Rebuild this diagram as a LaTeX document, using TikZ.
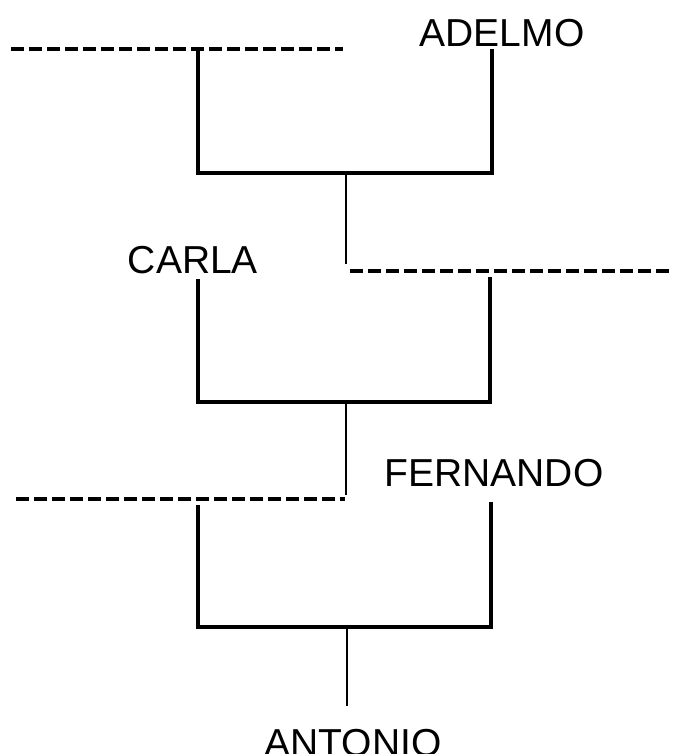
\documentclass[tikz,border=0pt]{standalone}
\usepackage{fontspec}
\setmainfont{Liberation Sans}
\usetikzlibrary{positioning}

\begin{document}
\begin{tikzpicture}[x=1pt,y=-1pt,
  person/.style={font=\fontsize{39}{39}\selectfont,inner sep=0pt,anchor=base},
  bar/.style={line width=3.3pt},
  unknown/.style={line width=3.3pt,dash pattern=on 13pt off 5pt},
  stem/.style={line width=1.3pt}]
  \useasboundingbox (0,0) rectangle (673,754);
  \node[person] (adelmo) at (502,47) {ADELMO};
  \node[person] (carla) at (193,273) {CARLA};
  \node[person] (fernando) at (494,486) {FERNANDO};
  \node[person] (antonio) at (353,756) {ANTONIO};
  % unknown parents
  \coordinate (u1a) at (11,49);  \coordinate (u1b) at (343,49);
  \coordinate (u2a) at (350,271); \coordinate (u2b) at (673,271);
  \coordinate (u3a) at (16,499);  \coordinate (u3b) at (345,499);
  \draw[unknown] (u1a) -- (u1b);
  \draw[unknown] (u2a) -- (u2b);
  \draw[unknown] (u3a) -- (u3b);
  % first couple
  \coordinate (p1) at (198,49);  \coordinate (q1) at (492,49);
  \coordinate (c1) at (346,173); \coordinate (k1) at (346,264);
  \draw[bar] (p1) |- (c1) -| (q1);
  \draw[stem] (c1) -- (k1);
  % second couple
  \coordinate (p2) at (198,279); \coordinate (q2) at (490,277);
  \coordinate (c2) at (346,402); \coordinate (k2) at (346,495);
  \draw[bar] (p2) |- (c2) -| (q2);
  \draw[stem] (c2) -- (k2);
  % third couple
  \coordinate (p3) at (198,505); \coordinate (q3) at (491,502);
  \coordinate (c3) at (347,627); \coordinate (k3) at (347,706);
  \draw[bar] (p3) |- (c3) -| (q3);
  \draw[stem] (c3) -- (k3);
\end{tikzpicture}
\end{document}
